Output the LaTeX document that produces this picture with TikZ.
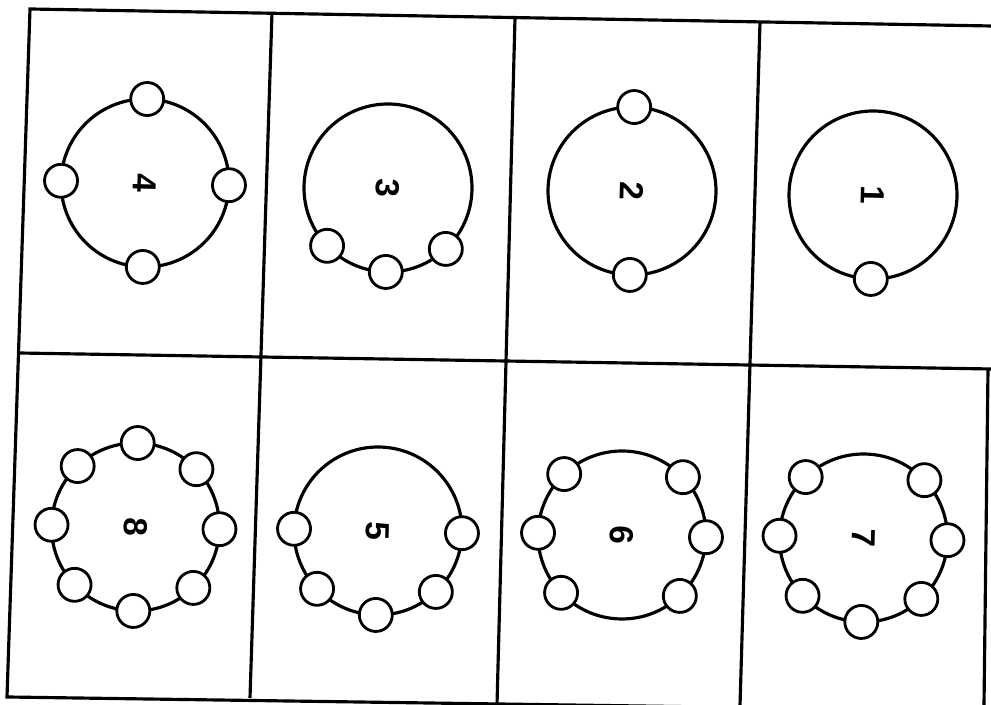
\documentclass[tikz,border=0pt]{standalone}
\usepackage{fontspec}
\setmainfont{Liberation Sans}

\begin{document}
\begin{tikzpicture}[x=0.02cm, y=0.02cm, line width=1.8pt,
        seat/.style={fill=white, line width=1.6pt},
        num/.style={font=\bfseries\fontsize{19}{23}\selectfont, rotate=-91.5, inner sep=0pt}]
        \useasboundingbox (0,0) rectangle (991,705);
        \clip (0,0) rectangle (991,705);

        % frame and cells
        \draw (991,679) -- (30,696) -- (7,8) -- (991,-6);
        \draw (18.5,352) -- (991,336);
        \draw (272,693) -- (250,7);
        \draw (515,687) -- (497,0);
        \draw (760,683) -- (740,-1);
        \draw (988,336) -- (984,0);

        % tables with their seats
        \foreach \n/\cx/\cy/\seats in {
                4/145/522/{0,90,180,270},
                3/388/517/{225,270,315},
                2/632/514/{90,270},
                1/873/510/{270},
                8/135.5/178/{0,45,90,135,180,225,270,315},
                5/378/174/{0,180,225,270,315},
                6/622/170/{0,45,135,180,225,315},
                7/863.5/167/{0,45,135,180,225,270,315}} {
            \begin{scope}[shift={(\cx,\cy)}, rotate=-1.5]
                \draw (0,0) circle[radius=84];
                \foreach \a in \seats \draw[seat] (\a:84) circle[radius=16.5];
            \end{scope}
            \node[num] (tab\n) at (\cx,\cy) {\n};
        }
    \end{tikzpicture}
\end{document}
